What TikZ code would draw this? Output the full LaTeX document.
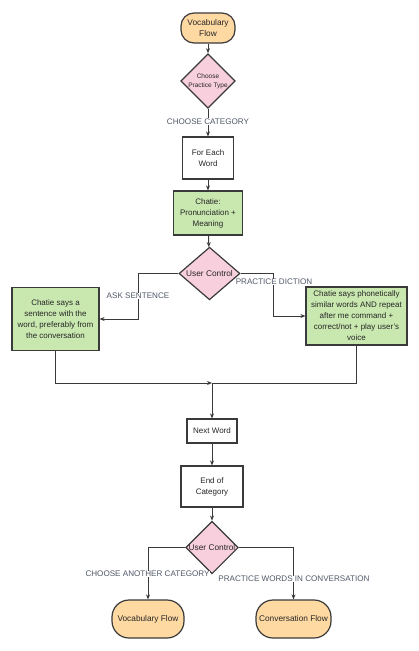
\documentclass[tikz,border=0pt]{standalone}
\usepackage{fontspec}
\setmainfont{Liberation Sans}
\usetikzlibrary{shapes.geometric,arrows.meta}
\definecolor{termfill}{HTML}{FFD9A2}
\definecolor{decfill}{HTML}{F8CFDC}
\definecolor{actfill}{HTML}{C9E8B0}
\definecolor{lineclr}{HTML}{3A3A3A}
\definecolor{lblclr}{HTML}{505868}
\begin{document}
\begin{tikzpicture}[x=1pt,y=-1pt,
  every node/.style={font=\fontsize{8}{11}\selectfont, align=center, inner sep=1pt, text=black!85},
  term/.style={draw=lineclr, line width=1.2pt, fill=termfill, font=\fontsize{8.3}{11}\selectfont},
  dec/.style={draw=lineclr, line width=1.2pt, fill=decfill, diamond, inner sep=0pt, font=\fontsize{8.3}{11}\selectfont},
  proc/.style={draw=lineclr, line width=1.2pt, fill=white},
  act/.style={draw=lineclr, line width=1.2pt, fill=actfill},
  lbl/.style={fill=white, text=lblclr, inner sep=0.5pt, font=\fontsize{8.1}{9}\selectfont},
  arr/.style={draw=lineclr, line width=1pt, -{Stealth[length=5pt,width=4pt]}},
  ln/.style={draw=lineclr, line width=1pt}]
\useasboundingbox[fill=white] (0,0) rectangle (419,651);

\node[term, minimum width=54pt, minimum height=30pt, rounded corners=13pt] (voc1) at (208,28) {Vocabulary\\Flow};
\node[dec, minimum width=53pt, minimum height=49pt, font=\fontsize{6.5}{9}\selectfont] (ch1) at (208,81) {Choose\\Practice Type};
\node[proc, minimum width=51pt, minimum height=42pt] (each) at (208,158) {For Each\\Word};
\node[act, minimum width=69pt, minimum height=44pt] (pron) at (208,213) {Chatie:\\Pronunciation +\\Meaning};
\node[dec, minimum width=61pt, minimum height=47pt] (uc1) at (209.5,273.5) {User Control};
\node[act, minimum width=87pt, minimum height=63pt] (ask) at (55.5,319) {Chatie says a\\sentence with the\\word, preferably from\\the conversation};
\node[act, minimum width=101pt, minimum height=58pt] (dic) at (356.5,316) {Chatie says phonetically\\similar words AND repeat\\after me command +\\correct/not + play user's\\voice};
\node[proc, minimum width=50pt, minimum height=24pt] (next) at (212,431) {Next Word};
\node[proc, minimum width=62pt, minimum height=41pt] (end) at (212,486.5) {End of\\Category};
\node[dec, minimum width=52pt, minimum height=43pt] (uc2) at (212,547.5) {User Control};
\node[term, minimum width=72pt, minimum height=38pt, rounded corners=17pt] (voc2) at (148,619) {Vocabulary Flow};
\node[term, minimum width=75pt, minimum height=38pt, rounded corners=17pt] (conv) at (293.5,619) {Conversation Flow};

\coordinate (lk) at (138,319);
\coordinate (rk) at (273,316);
\coordinate (m) at (212,383);

\draw[arr] (voc1) -- (ch1);
\draw[arr] (ch1) -- (each) node[lbl, pos=0.45] {CHOOSE CATEGORY};
\draw[arr] (each) -- (pron);
\draw[arr] (pron) -- (uc1);
\draw[arr] (uc1.west) -| (lk) -- (ask.east);
\draw[arr] (uc1.east) -| (rk) -- (dic.west);
\node[lbl] (lask) at (138,296) {ASK SENTENCE};
\node[lbl] (ldic) at (274,282) {PRACTICE DICTION};
\draw[arr] (ask.south) |- (m);
\draw[ln] (dic.south) |- (m);
\draw[arr] (m) -- (next.north);
\draw[arr] (next) -- (end);
\draw[arr] (end) -- (uc2);
\draw[arr] (uc2.west) -| (voc2.north);
\draw[arr] (uc2.east) -| (conv.north);
\node[lbl] (lcat) at (147.5,574) {CHOOSE ANOTHER CATEGORY};
\node[lbl] (lconv) at (294,579) {PRACTICE WORDS IN CONVERSATION};
\end{tikzpicture}
\end{document}
